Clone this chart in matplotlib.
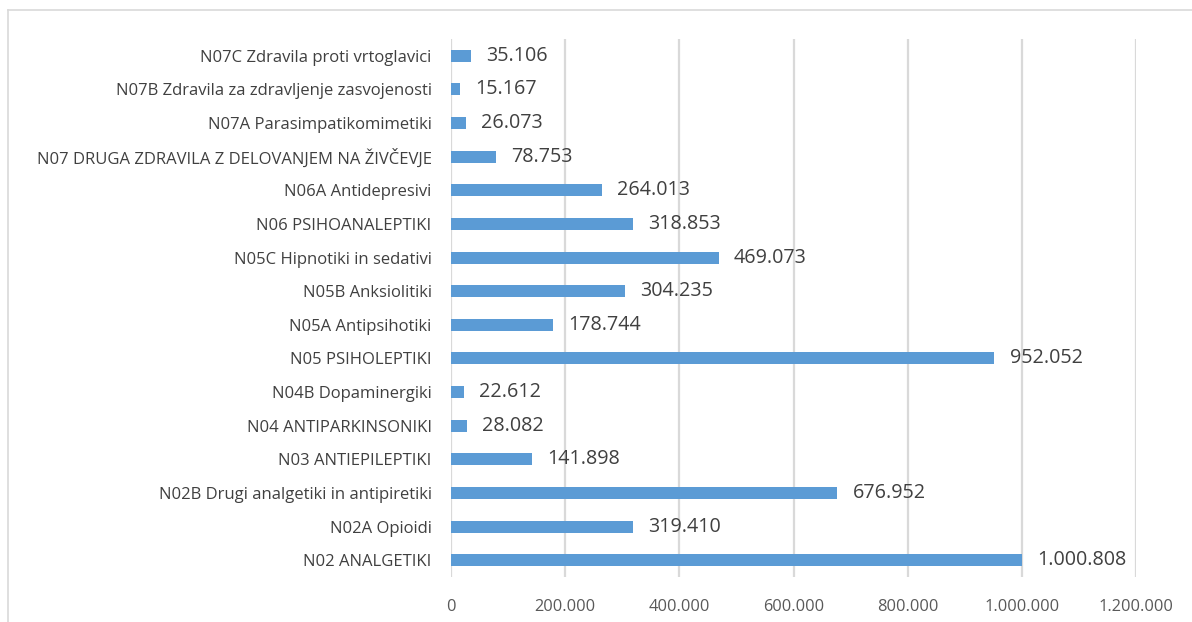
import matplotlib
matplotlib.use("Agg")
import matplotlib.pyplot as plt
from matplotlib.lines import Line2D

categories = [
    "N02 ANALGETIKI",
    "N02A Opioidi",
    "N02B Drugi analgetiki in antipiretiki",
    "N03 ANTIEPILEPTIKI",
    "N04 ANTIPARKINSONIKI",
    "N04B Dopaminergiki",
    "N05 PSIHOLEPTIKI",
    "N05A Antipsihotiki",
    "N05B Anksiolitiki",
    "N05C Hipnotiki in sedativi",
    "N06 PSIHOANALEPTIKI",
    "N06A Antidepresivi",
    "N07 DRUGA ZDRAVILA Z DELOVANJEM NA ŽIVČEVJE",
    "N07A Parasimpatikomimetiki",
    "N07B Zdravila za zdravljenje zasvojenosti",
    "N07C Zdravila proti vrtoglavici",
]
values = [1000808, 319410, 676952, 141898, 28082, 22612, 952052, 178744,
          304235, 469073, 318853, 264013, 78753, 26073, 15167, 35106]
xticks = [0, 200000, 400000, 600000, 800000, 1000000, 1200000]

def fmt(v):
    return f"{v:,}".replace(",", ".")

plt.rcParams['font.family'] = ['Open Sans', 'DejaVu Sans']

fig = plt.figure(figsize=(11.92, 6.22), dpi=100)
ax = fig.add_axes([451/1192, 1-577/622, (1136-451)/1192, (577-39)/622])

y = list(range(len(categories)))
ax.barh(y, values, height=0.36, color="#5B9BD5", zorder=3)
ax.set_ylim(-0.5, len(categories)-0.5)
ax.set_xlim(0, 1200000)
ax.set_xticks(xticks)
ax.set_xticklabels([fmt(t) for t in xticks], fontsize=11.8, color="#595959")
ax.set_yticks(y)
ax.set_yticklabels(categories, fontsize=12, color="#404040")
ax.tick_params(axis='both', length=0)
ax.tick_params(axis='x', pad=16)
ax.tick_params(axis='y', pad=14)
for s in ax.spines.values():
    s.set_visible(False)
ax.grid(axis='x', color="#D9D9D9", linewidth=1.6, zorder=0)
ax.set_axisbelow(True)

for yi, v in zip(y, values):
    ax.annotate(fmt(v), (v, yi), xytext=(11, 0), textcoords='offset points',
                ha='left', va='center', fontsize=14.2, color="#404040")

# chart border (light gray frame)
fig.add_artist(Line2D([8/1192, 1], [1-9.5/622, 1-9.5/622], transform=fig.transFigure,
                      color="#D9D9D9", linewidth=1.2))
fig.add_artist(Line2D([8/1192, 8/1192], [0, 1-9.5/622], transform=fig.transFigure,
                      color="#D9D9D9", linewidth=1.2))

fig.savefig("out.png", dpi=100, facecolor="white")
